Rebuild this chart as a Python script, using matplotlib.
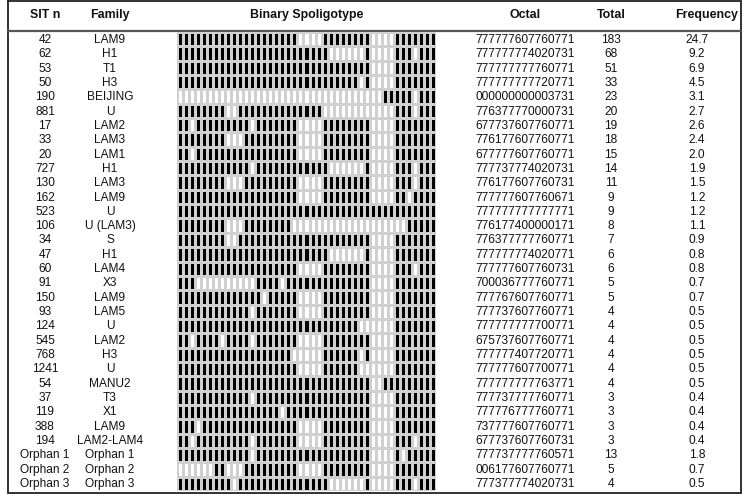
#!/usr/bin/env python3
# Spoligotype table: SIT, family, binary pattern, octal code, counts
import numpy as np
import matplotlib
matplotlib.use("Agg")
import matplotlib.pyplot as plt
from matplotlib.colors import ListedColormap

plt.rcParams["font.family"] = ["Liberation Sans", "DejaVu Sans"]

sit = ["42", "62", "53", "50", "190", "881", "17", "33", "20", "727", "130",
       "162", "523", "106", "34", "47", "60", "91", "150", "93", "124", "545",
       "768", "1241", "54", "37", "119", "388", "194",
       "Orphan 1", "Orphan 2", "Orphan 3"]
family = ["LAM9", "H1", "T1", "H3", "BEIJING", "U", "LAM2", "LAM3", "LAM1",
          "H1", "LAM3", "LAM9", "U", "U (LAM3)", "S", "H1", "LAM4", "X3",
          "LAM9", "LAM5", "U", "LAM2", "H3", "U", "MANU2", "T3", "X1", "LAM9",
          "LAM2-LAM4", "Orphan 1", "Orphan 2", "Orphan 3"]
octal = ["777777607760771", "777777774020731", "777777777760771",
         "777777777720771", "000000000003731", "776377770000731",
         "677737607760771", "776177607760771", "677777607760771",
         "777737774020731", "776177607760731", "777777607760671",
         "777777777777771", "776177400000171", "776377777760771",
         "777777774020771", "777777607760731", "700036777760771",
         "777767607760771", "777737607760771", "777777777700771",
         "675737607760771", "777777407720771", "777777607700771",
         "777777777763771", "777737777760771", "777776777760771",
         "737777607760771", "677737607760731", "777737777760571",
         "006177607760771", "777377774020731"]
total = [183, 68, 51, 33, 23, 20, 19, 18, 15, 14, 11, 9, 9, 8, 7, 6, 6, 5, 5,
         4, 4, 4, 4, 4, 4, 3, 3, 3, 3, 13, 5, 4]
freq = ["24.7", "9.2", "6.9", "4.5", "3.1", "2.7", "2.6", "2.4", "2.0", "1.9",
        "1.5", "1.2", "1.2", "1.1", "0.9", "0.8", "0.8", "0.7", "0.7", "0.5",
        "0.5", "0.5", "0.5", "0.5", "0.5", "0.4", "0.4", "0.4", "0.4", "1.8",
        "0.7", "0.5"]


def octal_to_binary(code):
    # 14 digits -> 3 spacers each, last digit -> spacer 43
    bits = []
    for d in code[:14]:
        bits += [int(b) for b in format(int(d), "03b")]
    bits.append(int(code[14]))
    return bits


binary = np.array([octal_to_binary(c) for c in octal])
n_rows = len(sit)

W, H = 744, 499
fig = plt.figure(figsize=(W / 100, H / 100), dpi=100)
fig.patch.set_facecolor("white")

# main axes in pixel x, row-unit y
row0, row_h = 40.0, 14.32
ax = fig.add_axes([0, 0, 1, 1])
ax.set_xlim(0, W)
ax.set_ylim((H - row0) / row_h, -row0 / row_h)
ax.axis("off")


def py(p):
    return (p - row0) / row_h


# frame and header rule
ax.plot([8, 741, 741, 8, 8], [py(1), py(1), py(493), py(493), py(1)],
        color="#222222", lw=1.3, solid_joinstyle="miter")
ax.plot([8, 741], [py(31), py(31)], color="#555555", lw=1.6)

headers = [("SIT n", 45), ("Family", 110), ("Binary Spoligotype", 307),
           ("Octal", 525), ("Total", 611), ("Frequency", 707)]
for text, x in headers:
    ax.text(x, py(15), text, ha="center", va="center", fontsize=8.9,
            fontweight="bold", color="#111111")

cols = [(sit, 45), (family, 110), (octal, 525),
        ([str(t) for t in total], 611), (freq, 697)]
for values, x in cols:
    for i, v in enumerate(values):
        ax.text(x, i, v, ha="center", va="center", fontsize=8.6,
                color="#111111")

# binary spoligotype grid
gx0, gx1, gy0, gy1 = 177, 436, 32, 491
gax = fig.add_axes([gx0 / W, 1 - gy1 / H, (gx1 - gx0) / W, (gy1 - gy0) / H])
gax.pcolormesh(binary, cmap=ListedColormap(["white", "black"]),
               edgecolors="#d0d0d0", linewidth=0.95, vmin=0, vmax=1)
gax.set_xlim(0, binary.shape[1])
gax.set_ylim(n_rows, 0)
gax.axis("off")

fig.savefig("out.png", dpi=100, facecolor="white")
